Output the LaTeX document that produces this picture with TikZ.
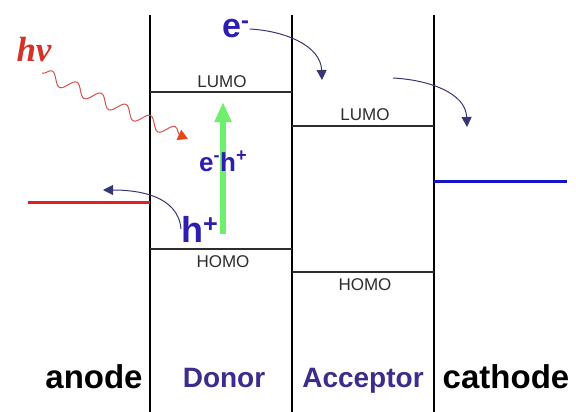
\documentclass[tikz,border=0pt]{standalone}
\usepackage{fontspec}
\setmainfont{Liberation Sans}
\newfontfamily\photonfont{Liberation Serif}
\usetikzlibrary{arrows.meta,decorations.pathmorphing}

\definecolor{ink}{RGB}{45,45,45}
\definecolor{chargeblue}{RGB}{45,30,175}
\definecolor{layerblue}{RGB}{60,45,140}
\definecolor{hopgray}{RGB}{55,55,115}
\definecolor{photonred}{RGB}{215,80,80}
\definecolor{photontext}{RGB}{210,50,40}
\definecolor{photontip}{RGB}{230,70,20}
\definecolor{anodered}{RGB}{225,30,40}
\definecolor{cathodeblue}{RGB}{20,20,200}
\definecolor{excitongreen}{RGB}{110,240,110}

\begin{document}
\begin{tikzpicture}[
                x=1pt, y=-1pt,
                wall/.style={line width=1.7pt},
                level/.style={line width=1.7pt, draw=ink},
                lvl/.style={font=\fontsize{17}{17}\selectfont, text=ink, inner sep=0pt},
                layer/.style={font=\fontsize{28}{28}\selectfont\bfseries, inner sep=0pt, anchor=base},
                electrode/.style={font=\fontsize{33}{33}\selectfont\bfseries, inner sep=0pt, anchor=base},
                charge/.style={text=chargeblue, inner sep=0pt, anchor=base west},
                hop/.style={draw=hopgray, line width=1pt, -{Triangle[length=10pt, width=10pt]}},
            ]
                \useasboundingbox (0, 0) rectangle (576, 412);

                %% the three interfaces between the layers
                \foreach \x in {150, 292, 434}{
                    \draw[wall] (\x, 15) -- (\x, 412);
                }

                %% energy levels of donor and acceptor
                \draw[level] (150, 92) -- (292, 92);
                \draw[level] (150, 249) -- (292, 249);
                \draw[level] (292, 126) -- (434, 126);
                \draw[level] (292, 272) -- (434, 272);
                \node[lvl] (dlumo) at (222, 82) {LUMO};
                \node[lvl] (dhomo) at (223, 262) {HOMO};
                \node[lvl] (alumo) at (365, 115) {LUMO};
                \node[lvl] (ahomo) at (365, 285) {HOMO};

                %% electrode work functions
                \draw[draw=anodered, line width=3pt] (28, 202) -- (150, 202);
                \draw[draw=cathodeblue, line width=3pt] (434, 181) -- (567, 181);

                %% incoming photon
                \node[font=\photonfont\fontsize{35}{35}\selectfont\bfseries\itshape,
                    text=photontext, inner sep=0pt] (hv) at (34, 50) {hv};
                \coordinate (hvstart) at (42, 73);
                \coordinate (hvend) at (188, 139);
                \draw[draw=photonred, line width=1pt,
                    decorate, decoration={snake, amplitude=6pt, segment length=27pt, post length=8pt},
                    -{Triangle[length=10pt, width=11pt, color=photontip]}] (hvstart) -- (hvend);

                %% exciton formed in the donor
                \coordinate (exlo) at (223, 234);
                \coordinate (exhi) at (223, 102);
                \draw[draw=excitongreen, line width=6pt,
                    -{Triangle[length=20pt, width=16pt]}] (exlo) -- (exhi);
                \node[charge, font=\fontsize{26}{26}\selectfont\bfseries] (exciton) at (199, 171)
                    {e\textsuperscript{-}h\textsuperscript{+}};

                %% electron hops down the LUMOs towards the cathode
                \node[charge, font=\fontsize{34}{34}\selectfont\bfseries] (elec) at (222, 38)
                    {e\textsuperscript{-}};
                \coordinate (eland) at (322, 80);
                \coordinate (ehop) at (393, 78);
                \coordinate (cland) at (467, 127);
                \draw[hop] (elec.east) to[out=-3, in=92] (eland);
                \draw[hop] (ehop) to[out=-3, in=92] (cland);

                %% hole goes back to the anode
                \node[charge, font=\fontsize{36}{36}\selectfont\bfseries] (hole) at (181, 242)
                    {h\textsuperscript{+}};
                \coordinate (hland) at (103, 190);
                \draw[hop] (hole.west) to[out=95, in=0] (hland);

                %% layer names
                \node[electrode] (anode) at (94, 388) {anode};
                \node[layer, text=layerblue] (donor) at (224, 387) {Donor};
                \node[layer, text=layerblue] (acceptor) at (363, 387) {Acceptor};
                \node[electrode] (cathode) at (506, 388) {cathode};
            \end{tikzpicture}
\end{document}
